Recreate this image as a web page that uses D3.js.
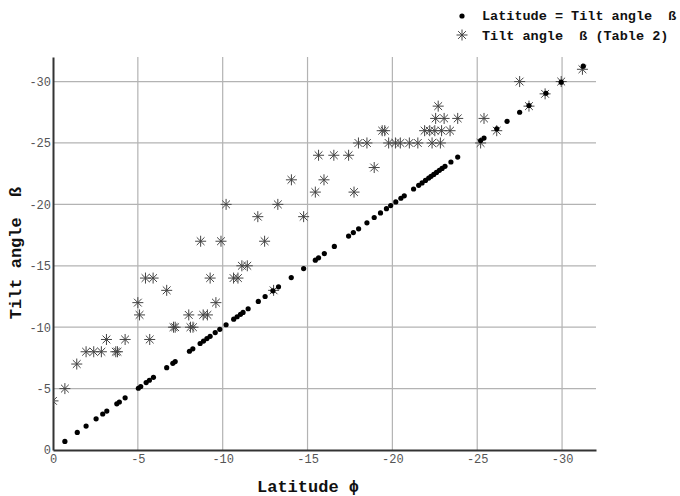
<!DOCTYPE html>
<html>
<head>
<meta charset="utf-8">
<script src="https://cdn.jsdelivr.net/npm/d3@7"></script>
<style>
  body { margin: 0; background: #fff; }
  svg { display: block; }
  .tick text { font-family: "Liberation Mono", "DejaVu Sans Mono", monospace; font-size: 12px; fill: #555; }
  .title { font-family: "Liberation Mono", "DejaVu Sans Mono", monospace; font-weight: bold; fill: #111; white-space: pre; }
</style>
</head>
<body>
<div id="chart"></div>
<script>
// latitude = tilt angle (points on the diagonal)
var diagLat = [-0.7, -1.43, -1.95, -2.54, -2.93, -3.17, -3.76, -3.91, -4.25, -5.03, -5.17,
  -5.49, -5.68, -5.92, -6.7, -7.06, -7.2, -8.04, -8.24, -8.67, -8.87, -9.07, -9.26,
  -9.56, -9.83, -10.2, -10.65, -10.85, -11.05, -11.2, -11.5, -12.1, -12.5, -12.96,
  -13.29, -14.04, -14.77, -15.46, -15.65, -15.99, -16.58, -17.42, -17.7, -18.01,
  -18.5, -18.93, -19.3, -19.65, -19.9, -20.2, -20.5, -20.7, -21.25, -21.55, -21.75,
  -21.95, -22.14, -22.28, -22.44, -22.6, -22.77, -22.93, -23.1, -23.45, -23.85,
  -25.2, -25.4, -26.15, -26.76, -27.5, -28.05, -29.05, -29.95, -31.25];

// tilt angle from Table 2
var tableLat = [0, -0.7, -1.4, -1.95, -2.4, -2.85, -3.7, -3.8, -3.15, -4.25, -5.7,
  -7.1, -7.2, -8.1, -8.25, -5.1, -8.0, -8.85, -9.1, -5.0, -9.6, -6.7, -13.0,
  -5.45, -5.9, -9.26, -10.64, -10.9, -11.13, -11.45, -8.7, -9.9, -12.47,
  -12.07, -14.77, -10.2, -13.25, -15.46, -17.74, -14.05, -15.97, -18.93,
  -15.65, -16.55, -17.42, -18.0, -18.5, -19.78, -20.18, -20.47, -21.0, -21.5,
  -22.34, -22.83, -25.2, -19.4, -19.55, -21.9, -22.2, -22.5, -22.9, -23.4, -26.15,
  -22.55, -23.05, -23.85, -25.4, -22.7, -28.05, -29.0, -27.5, -29.95, -31.2];
var tableTilt = [-4, -5, -7, -8, -8, -8, -8, -8, -9, -9, -9,
  -10, -10, -10, -10, -11, -11, -11, -11, -12, -12, -13, -13,
  -14, -14, -14, -14, -14, -15, -15, -17, -17, -17,
  -19, -19, -20, -20, -21, -21, -22, -22, -23,
  -24, -24, -24, -25, -25, -25, -25, -25, -25, -25,
  -25, -25, -25, -26, -26, -26, -26, -26, -26, -26, -26,
  -27, -27, -27, -27, -28, -28, -29, -30, -30, -31];

var xTicks = [0, -5, -10, -15, -20, -25, -30];
var yTicks = [0, -5, -10, -15, -20, -25, -30];

var width = 680, height = 496;

var svg = d3.select("#chart")
            .append("svg")
            .attr("width", width)
            .attr("height", height);

var x = d3.scaleLinear().domain([0, -32]).range([53, 596]);
var y = d3.scaleLinear().domain([0, -32]).range([450, 57]);

// clip marks to the plot area (left edge is the y axis)
svg.append("clipPath")
   .attr("id", "plot-clip")
   .append("rect")
   .attr("x", x(0))
   .attr("y", 0)
   .attr("width", width - x(0))
   .attr("height", y(0) + 5);

// gridlines
svg.append("g")
   .selectAll("line")
   .data(xTicks.filter(function(d){ return d !== 0; }))
   .enter().append("line")
   .attr("x1", function(d){ return x(d); })
   .attr("x2", function(d){ return x(d); })
   .attr("y1", y.range()[0])
   .attr("y2", y.range()[1])
   .attr("stroke", "#b3b3b3")
   .attr("stroke-width", 1.2);

svg.append("g")
   .selectAll("line")
   .data(yTicks.filter(function(d){ return d !== 0; }))
   .enter().append("line")
   .attr("y1", function(d){ return y(d); })
   .attr("y2", function(d){ return y(d); })
   .attr("x1", x.range()[0])
   .attr("x2", x.range()[1])
   .attr("stroke", "#b3b3b3")
   .attr("stroke-width", 1.2);

// axes
svg.append("g")
   .attr("transform", "translate(0," + y(0) + ")")
   .call(d3.axisBottom(x)
     .tickValues(xTicks)
     .tickSize(0)
     .tickPadding(4)
     .tickFormat(function(d){ return String(d); }));

svg.append("g")
   .attr("transform", "translate(" + x(0) + ",0)")
   .call(d3.axisLeft(y)
     .tickValues(yTicks)
     .tickSize(0)
     .tickPadding(2)
     .tickFormat(function(d){ return String(d); }));

svg.selectAll(".domain")
   .attr("stroke", "#333")
   .attr("stroke-width", 2);

// star marker path
function starPath(r) {
  var p = d3.path();
  for (var i = 0; i < 4; i++) {
    var a = i * Math.PI / 4;
    p.moveTo(-r * Math.cos(a), -r * Math.sin(a));
    p.lineTo(r * Math.cos(a), r * Math.sin(a));
  }
  return p.toString();
}

// Table 2 points
svg.append("g")
   .attr("clip-path", "url(#plot-clip)")
   .selectAll("path")
   .data(tableLat.map(function(d, i){ return [d, tableTilt[i]]; }))
   .enter().append("path")
   .attr("d", starPath(5.5))
   .attr("transform", function(d){ return "translate(" + x(d[0]) + "," + y(d[1]) + ")"; })
   .attr("stroke", "#444")
   .attr("stroke-width", 1)
   .attr("fill", "none");

// diagonal points
svg.append("g")
   .selectAll("circle")
   .data(diagLat)
   .enter().append("circle")
   .attr("cx", function(d){ return x(d); })
   .attr("cy", function(d){ return y(d); })
   .attr("r", 2.6)
   .attr("fill", "#000");

// axis titles
svg.append("text")
   .attr("class", "title")
   .attr("x", 308)
   .attr("y", 492)
   .attr("text-anchor", "middle")
   .style("font-size", "17px")
   .text("Latitude ϕ");

svg.append("text")
   .attr("class", "title")
   .attr("transform", "translate(21,253) rotate(-90)")
   .attr("text-anchor", "middle")
   .style("font-size", "17px")
   .text("Tilt angle  ß");

// legend
var legend = svg.append("g").attr("class", "legend");

legend.append("circle")
   .attr("cx", 462)
   .attr("cy", 16)
   .attr("r", 2.6)
   .attr("fill", "#000");

legend.append("path")
   .attr("d", starPath(5.5))
   .attr("transform", "translate(462,35)")
   .attr("stroke", "#444")
   .attr("stroke-width", 1)
   .attr("fill", "none");

legend.append("text")
   .attr("class", "title")
   .attr("x", 482)
   .attr("y", 20)
   .style("font-size", "13.5px")
   .text("Latitude = Tilt angle  ß");

legend.append("text")
   .attr("class", "title")
   .attr("x", 482)
   .attr("y", 40)
   .style("font-size", "13.5px")
   .text("Tilt angle  ß (Table 2)");
</script>
</body>
</html>
